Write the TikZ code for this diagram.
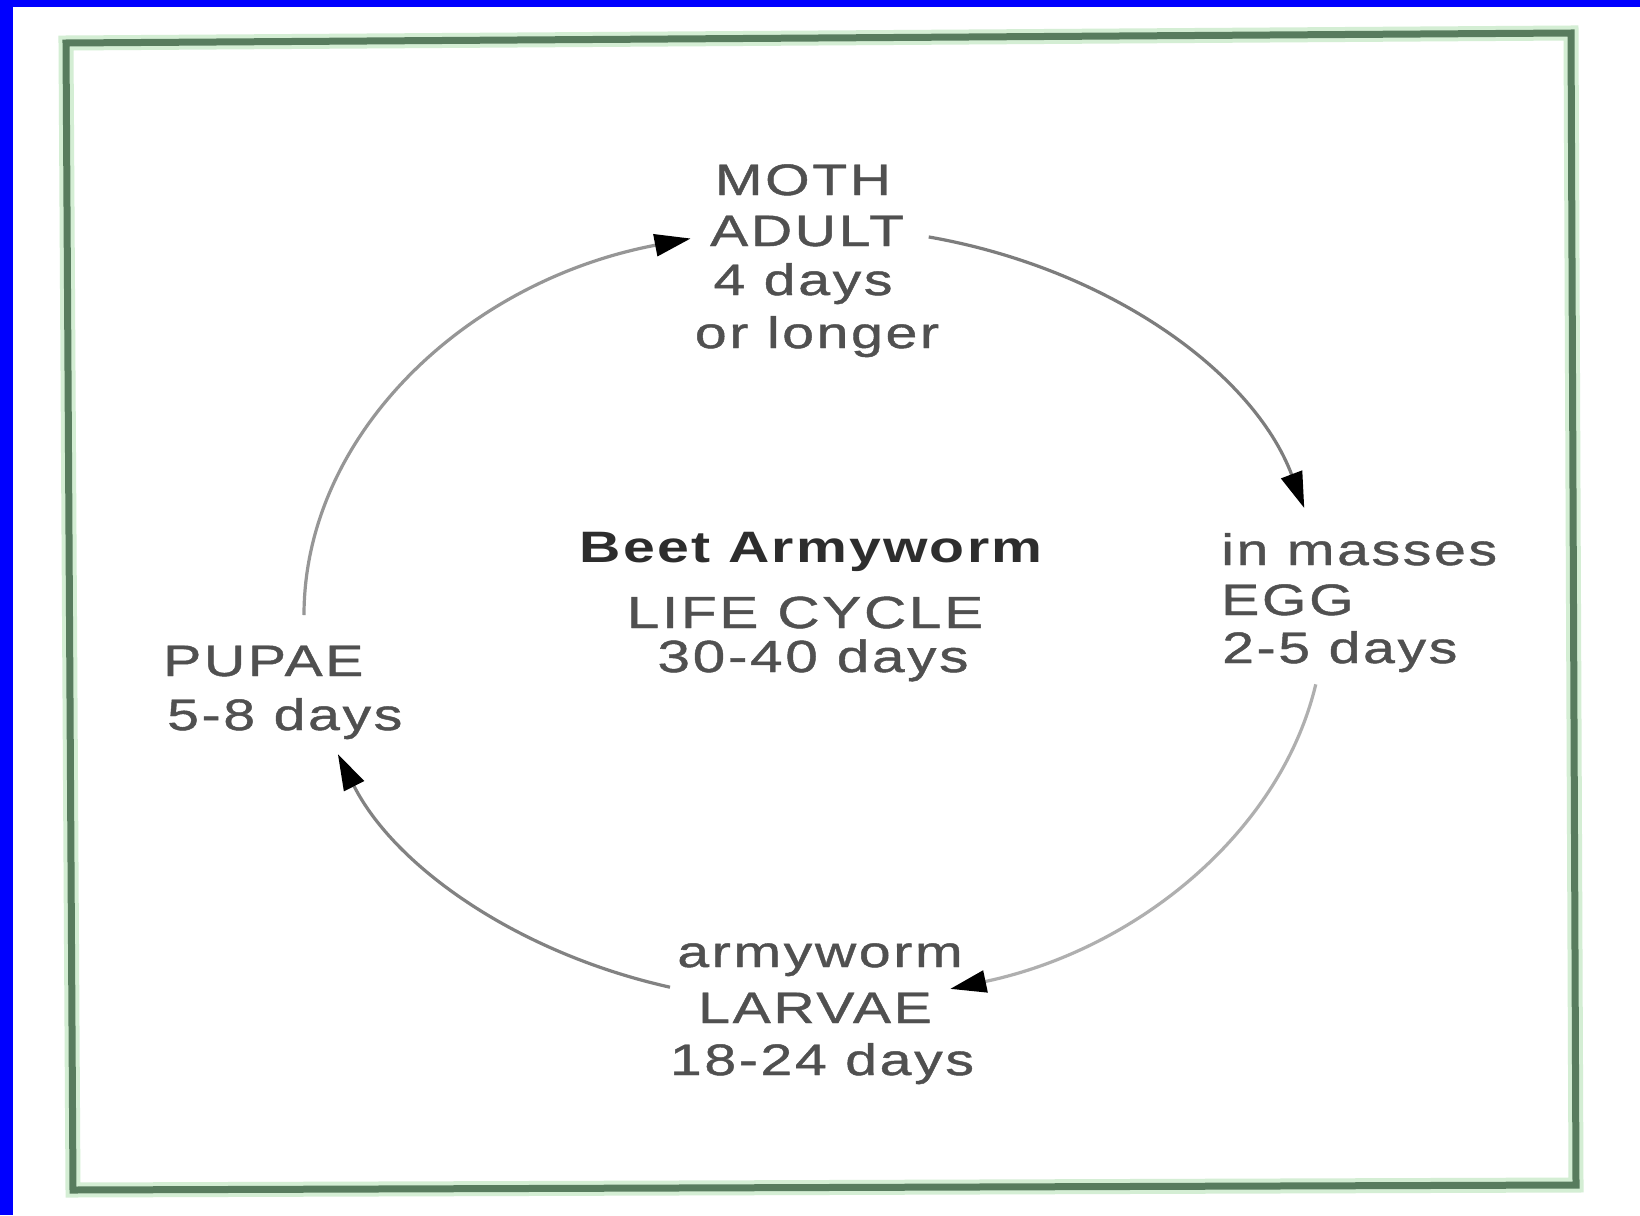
\documentclass[tikz,border=0pt]{standalone}
\usepackage{fontspec}
\newfontfamily\labfont{Liberation Sans}[FakeStretch=1.3, LetterSpace=6, FakeBold=1]
\newfontfamily\ttlfont{Liberation Sans Bold}[FakeStretch=1.3, LetterSpace=5]
\usetikzlibrary{arrows.meta}
\definecolor{framedark}{RGB}{88,124,94}
\definecolor{framelight}{RGB}{212,238,212}
\definecolor{labgray}{RGB}{80,80,80}
\definecolor{titlegray}{RGB}{45,45,45}
\definecolor{arrA}{RGB}{125,125,125}
\definecolor{arrB}{RGB}{175,175,175}
\definecolor{arrC}{RGB}{130,130,130}
\definecolor{arrD}{RGB}{150,150,150}
\begin{document}
\begin{tikzpicture}[x=1pt,y=-1pt,
  lbl/.style={font=\labfont\fontsize{44}{52}\selectfont, text=labgray, inner sep=0pt, anchor=base},
  lblw/.style={lbl, anchor=base west},
  ttl/.style={font=\ttlfont\fontsize{44}{52}\selectfont, text=titlegray, inner sep=0pt, anchor=base},
  cyc/.style={line width=3.2pt, -{Triangle[length=36pt,width=22pt,color=black]}}]
\useasboundingbox (0,0) rectangle (1640,1215);
\fill[white] (0,0) rectangle (1640,1215);
\fill[blue] (0,0) rectangle (13,1215);
\fill[blue] (0,0) rectangle (1640,7);
% frame
\coordinate (f1) at (66,43);
\coordinate (f2) at (1571,33);
\coordinate (f3) at (1576,1185);
\coordinate (f4) at (73,1190);
\draw[framelight, line width=15pt] (f1)--(f2)--(f3)--(f4)--cycle;
\draw[framedark, line width=7pt] (f1)--(f2)--(f3)--(f4)--cycle;
% labels
\node[lbl] (moth) at (803,195) {MOTH};
\node[lbl] (adult) at (807,246) {ADULT};
\node[lbl] (mdays) at (803,295) {4 days};
\node[lbl] (mlong) at (817,348) {or longer};
\node[lblw] (emass) at (1221,565) {in masses};
\node[lblw] (egg) at (1221,615) {EGG};
\node[lblw] (edays) at (1222,663) {2-5 days};
\node[lblw] (pupae) at (163,676) {PUPAE};
\node[lblw] (pdays) at (167,730) {5-8 days};
\node[ttl] (title) at (811,562) {Beet Armyworm};
\node[lbl,font=\labfont\fontsize{45}{52}\selectfont] (life) at (805,628) {LIFE CYCLE};
\node[lbl,font=\labfont\fontsize{45}{52}\selectfont] (ldays) at (813,672) {30-40 days};
\node[lbl] (army) at (820,967) {armyworm};
\node[lbl] (larvae) at (815,1023) {LARVAE};
\node[lbl] (larvdays) at (822,1075) {18-24 days};
% cycle arrows on an ellipse: centre (814,615), radii 510 x 388
\coordinate (s1) at ({814+510*cos(-77)},{615+388*sin(-77)});
\coordinate (s2) at ({814+510*cos(10.3)},{615+388*sin(10.3)});
\coordinate (s3) at ({814+510*cos(106.4)},{615+388*sin(106.4)});
\coordinate (s4) at ({814+510*cos(180)},{615+388*sin(180)});
\draw[cyc, arrA] (s1) arc[start angle=-77, end angle=-16, x radius=510, y radius=388];
\draw[cyc, arrB] (s2) arc[start angle=10.3, end angle=74.5, x radius=510, y radius=388];
\draw[cyc, arrC] (s3) arc[start angle=106.4, end angle=159, x radius=510, y radius=388];
\draw[cyc, arrD] (s4) arc[start angle=180, end angle=256, x radius=510, y radius=388];
\end{tikzpicture}
\end{document}
